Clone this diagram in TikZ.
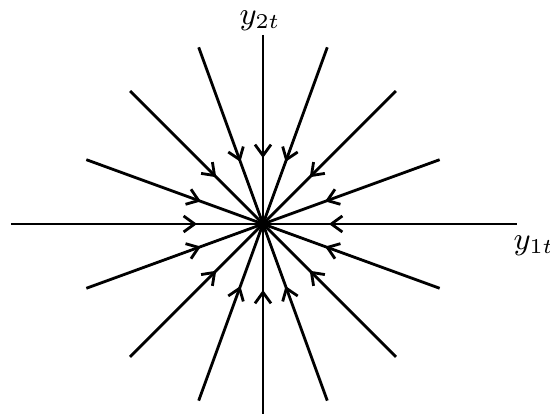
\documentclass[tikz,border=0pt]{standalone}
\usetikzlibrary{arrows.meta,decorations.markings}
\tikzset{
  ray/.style={line width=0.8pt,postaction={decorate},
    decoration={markings,mark=at position -0.66cm with {\arrow{Straight Barb[length=1.1mm,width=1.6mm]}}}}, % inward tip
  hub/.style={circle,fill=black,inner sep=0pt,minimum size=1.1mm},
  lbl/.style={inner sep=0pt,font=\small},
}
\begin{document}
\begin{tikzpicture}
  \useasboundingbox (-2.63,-1.90) rectangle (2.87,2.24);
  \coordinate (O) at (0,0);
  % rays into the origin
  \foreach \a/\r in {0/2.54,20/1.88,45/1.88,70/1.88,90/1.89,110/1.88,135/1.88,160/1.88,
                     180/2.52,200/1.88,225/1.88,250/1.88,270/1.92,290/1.88,315/1.88,340/1.88}{
    \coordinate (e\a) at (\a:\r);
    \draw[ray] (e\a) -- (O);
  }
  \node[hub] (c) at (O) {};
  \node[lbl] (ly) at (-0.03,2.03) {$y_{2t}$};
  \node[lbl] (lx) at (2.71,-0.22) {$y_{1t}$};
\end{tikzpicture}
\end{document}
